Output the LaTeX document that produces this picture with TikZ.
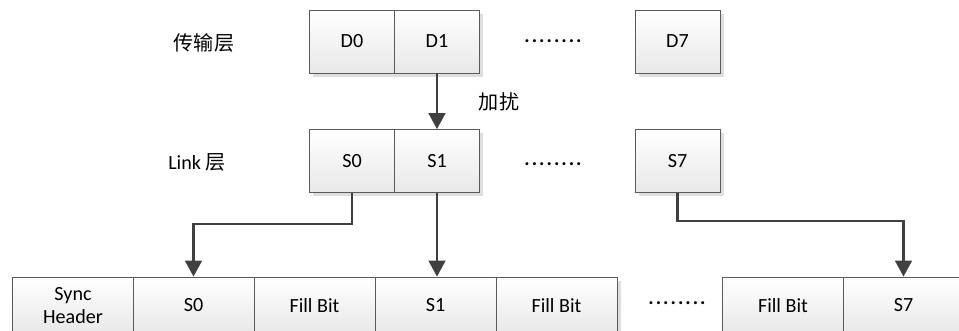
\documentclass[tikz,border=0pt]{standalone}
\usepackage{fontspec}
\setmainfont{Carlito}
\newfontfamily\cjk{Noto Sans CJK SC}
\definecolor{xian}{HTML}{404040}
\definecolor{bian}{HTML}{5A5A5A}
\usetikzlibrary{arrows.meta, shadows}

\newcommand\dianxian{\makebox[1.5cm]{\xleaders\hbox to 0.1667cm{\hss\textbf{.}\hss}\hfill}}

\tikzset{
  wenzi/.style={font=\fontsize{14.3}{17}\selectfont},
  kuang/.style={wenzi, draw=bian, line width=0.6pt, top color=white, bottom color=black!9,
    drop shadow={shadow xshift=2.5pt, shadow yshift=-2.5pt, fill=black!13, opacity=1},
    minimum width=2.125cm, minimum height=1.575cm, inner sep=0pt},
  zhen/.style={kuang, minimum width=3.025cm, minimum height=1.425cm, align=center},
  jiantou/.style={draw=xian, line width=1.7pt, -{Triangle[width=0.42cm, length=0.4cm]}},
}

\begin{document}
\begin{tikzpicture}[x=0.025cm, y=-0.025cm]
  \clip (0,0) rectangle (959,330);

  % chuanshu ceng
  \node[wenzi] (chuanshu) at (204,43) {\cjk 传输层};
  \node[kuang] (d0) at (352,41.5) {D0};
  \node[kuang] (d1) at (437,41.5) {D1};
  \node[wenzi] (dianD) at (553,41) {\dianxian};
  \node[kuang] (d7) at (677.5,41.5) {D7};

  % link ceng
  \node[wenzi] (link) at (197,162) {Link {\cjk 层}};
  \node[kuang] (s0) at (352,161) {S0};
  \node[kuang] (s1) at (437,161) {S1};
  \node[wenzi] (dianS) at (553,164) {\dianxian};
  \node[kuang] (s7) at (677.5,161) {S7};

  % zhen
  \node[zhen] (sync) at (73,305.5) {Sync\\Header};
  \node[zhen] (bs0) at (193.5,305.5) {S0};
  \node[zhen] (fill1) at (314.5,305.5) {Fill Bit};
  \node[zhen] (bs1) at (435.5,305.5) {S1};
  \node[zhen] (fill2) at (556.5,305.5) {Fill Bit};
  \node[wenzi] (dianB) at (677,303) {\dianxian};
  \node[zhen] (fill7) at (783,305.5) {Fill Bit};
  \node[zhen] (bs7) at (903.5,305.5) {S7};

  \draw[jiantou] (d1.south) -- (s1.north);
  \node[wenzi, anchor=west] (jiarao) at (474,102) {\cjk 加扰};

  \draw[jiantou] (s0.south) -- ++(0,31) -| (bs0.north);
  \draw[jiantou] (s1.south) -- (s1.south |- bs1.north);
  \draw[jiantou] (s7.south) -- ++(0,28) -| (bs7.north);
\end{tikzpicture}
\end{document}
